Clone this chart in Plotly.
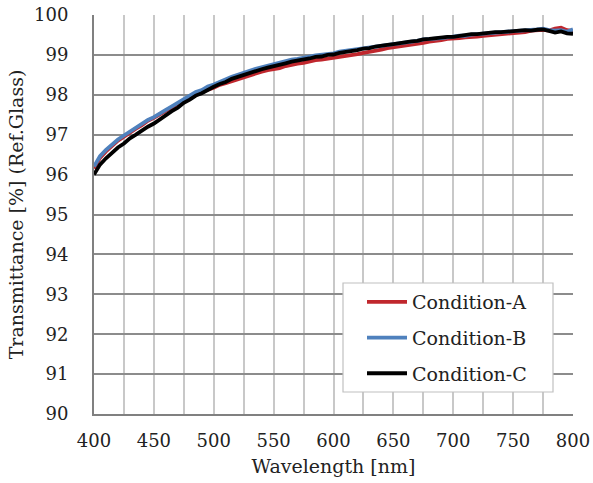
import plotly.graph_objects as go

wavelength = list(range(400, 801, 5))

cond_a = [96.15, 96.42, 96.58, 96.73, 96.85, 96.95, 97.06, 97.15, 97.24, 97.35,
          97.42, 97.52, 97.60, 97.67, 97.78, 97.86, 97.93, 98.01, 98.06, 98.13,
          98.18, 98.25, 98.29, 98.34, 98.40, 98.44, 98.50, 98.53, 98.58, 98.62,
          98.64, 98.67, 98.72, 98.76, 98.78, 98.80, 98.84, 98.87, 98.88, 98.90,
          98.92, 98.96, 98.98, 98.99, 99.02, 99.05, 99.07, 99.09, 99.13, 99.17,
          99.19, 99.20, 99.23, 99.26, 99.28, 99.30, 99.33, 99.34, 99.37, 99.40,
          99.40, 99.42, 99.44, 99.44, 99.46, 99.48, 99.49, 99.50, 99.52, 99.54,
          99.54, 99.56, 99.57, 99.61, 99.62, 99.63, 99.61, 99.66, 99.68, 99.62,
          99.60]

cond_b = [96.20, 96.46, 96.62, 96.76, 96.88, 96.98, 97.08, 97.18, 97.27, 97.37,
          97.44, 97.54, 97.62, 97.71, 97.80, 97.91, 97.98, 98.07, 98.12, 98.21,
          98.26, 98.33, 98.38, 98.45, 98.50, 98.56, 98.60, 98.65, 98.69, 98.74,
          98.77, 98.82, 98.84, 98.88, 98.90, 98.94, 98.96, 98.99, 99.00, 99.03,
          99.04, 99.08, 99.10, 99.13, 99.14, 99.17, 99.18, 99.21, 99.23, 99.26,
          99.27, 99.30, 99.31, 99.34, 99.35, 99.39, 99.39, 99.41, 99.42, 99.45,
          99.46, 99.48, 99.48, 99.51, 99.52, 99.54, 99.54, 99.57, 99.57, 99.59,
          99.59, 99.61, 99.61, 99.63, 99.64, 99.66, 99.62, 99.61, 99.62, 99.58,
          99.64]

cond_c = [96.00, 96.25, 96.41, 96.55, 96.68, 96.78, 96.91, 97.00, 97.11, 97.20,
          97.28, 97.39, 97.48, 97.59, 97.68, 97.80, 97.88, 97.98, 98.04, 98.13,
          98.20, 98.27, 98.32, 98.40, 98.45, 98.51, 98.55, 98.60, 98.64, 98.68,
          98.71, 98.76, 98.79, 98.83, 98.85, 98.89, 98.91, 98.95, 98.96, 99.00,
          99.01, 99.05, 99.07, 99.11, 99.12, 99.16, 99.17, 99.21, 99.22, 99.25,
          99.27, 99.30, 99.31, 99.34, 99.35, 99.39, 99.40, 99.42, 99.43, 99.45,
          99.45, 99.48, 99.49, 99.52, 99.52, 99.54, 99.55, 99.57, 99.57, 99.59,
          99.59, 99.61, 99.62, 99.61, 99.63, 99.64, 99.60, 99.56, 99.59, 99.54,
          99.53]

series = [
    ("Condition-A", cond_a, "#C0272D"),
    ("Condition-B", cond_b, "#4F81BD"),
    ("Condition-C", cond_c, "#000000"),
]

FONT = "DejaVu Serif"
TXT = "#222222"

W, H = 593, 483
PL, PR, PT, PB = 94, 573, 15, 414


def px(x):
    return (x - PL) / (PR - PL)


def py(y):
    return (PB - y) / (PB - PT)


fig = go.Figure()
for name, ys, color in series:
    fig.add_trace(go.Scatter(
        x=wavelength, y=ys, name=name, mode="lines",
        line=dict(color=color, width=3.8),
        legendgroup=name,
    ))

# legend frame (decoration)
fig.add_shape(type="rect", xref="paper", yref="paper",
              x0=px(343), x1=px(553), y0=py(392), y1=py(283),
              line=dict(color="#c0c0c0", width=1.2), fillcolor="white",
              layer="above")

fig.update_layout(
    width=W, height=H,
    margin=dict(l=PL, r=W - PR, t=PT, b=H - PB),
    paper_bgcolor="white", plot_bgcolor="white",
    font=dict(family=FONT, size=18, color=TXT),
    showlegend=True,
    legend=dict(
        x=px(362), y=py(283), xanchor="left", yanchor="top",
        borderwidth=0, bgcolor="rgba(0,0,0,0)",
        tracegroupgap=8, itemwidth=40,
        font=dict(family=FONT, size=19, color=TXT),
    ),
)

fig.update_xaxes(
    range=[400, 800], dtick=50, tick0=400,
    showgrid=True, gridcolor="#c8c8c8", gridwidth=2,
    minor=dict(dtick=25, showgrid=True, gridcolor="#c8c8c8", gridwidth=2),
    showline=True, linecolor="#808080", linewidth=2,
    ticks="", ticklabelstandoff=9, automargin=False,
    tickfont=dict(family=FONT, size=18, color=TXT),
    title=dict(text="Wavelength [nm]", standoff=10,
               font=dict(family=FONT, size=19, color=TXT)),
    zeroline=False,
)
fig.update_yaxes(
    range=[90, 100], dtick=1, tick0=90,
    showgrid=True, gridcolor="#8c8c8c", gridwidth=1.5,
    showline=True, linecolor="#808080", linewidth=2,
    ticks="", ticklabelstandoff=20, automargin=False,
    tickfont=dict(family=FONT, size=18, color=TXT),
    title=dict(text="Transmittance [%] (Ref.Glass)", standoff=5,
               font=dict(family=FONT, size=19, color=TXT)),
    zeroline=False,
)

fig.write_html(
    "out.html",
    config={"displayModeBar": False},
    post_script="document.body.style.margin='0';document.body.style.overflow='hidden';",
)
